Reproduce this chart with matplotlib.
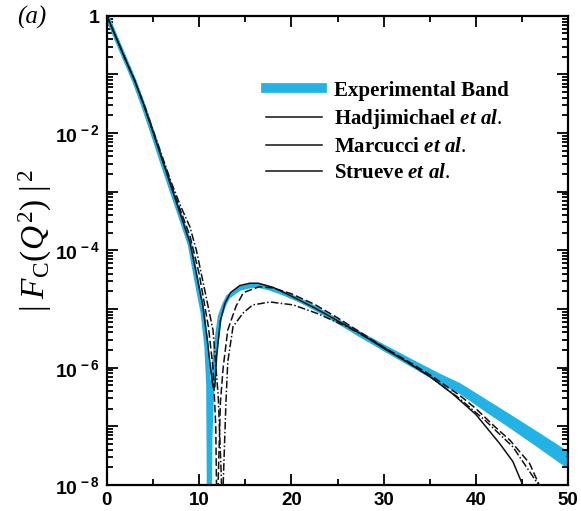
import matplotlib
matplotlib.use("Agg")
import matplotlib.pyplot as plt
import numpy as np
from matplotlib.lines import Line2D
from matplotlib.ticker import FixedLocator, FixedFormatter, LogLocator, NullFormatter

plt.rcParams['mathtext.fontset'] = 'custom'
plt.rcParams['mathtext.rm'] = 'Liberation Serif'
plt.rcParams['mathtext.it'] = 'Liberation Serif:italic:bold'
plt.rcParams['mathtext.bf'] = 'Liberation Serif:bold'
plt.rcParams['mathtext.sf'] = 'Liberation Sans:bold'
plt.rcParams['mathtext.cal'] = 'Liberation Serif:italic'

# experimental band: centre (log10) and half width (decades)
band_x = [0, 1, 2, 3, 4, 5, 6, 7, 8, 9, 9.7, 10.4, 10.8, 11.0, 11.1, 11.2, 11.35, 11.6,
          11.9, 12.25, 12.7, 13.15, 14.4, 15.5, 16.4, 17.5, 18.8, 20.9, 22.5, 24.5, 27.4,
          30, 33, 36, 38.3, 41, 43.75, 47, 50]
band_log = [0, -0.38, -0.75, -1.12, -1.55, -2.02, -2.5, -2.97, -3.43, -3.9, -4.5, -5.07,
            -5.64, -6.3, -9, -7.2, -6.5, -5.95, -5.53, -5.13, -4.93, -4.79, -4.65, -4.61,
            -4.6, -4.64, -4.71, -4.85, -4.98, -5.16, -5.43, -5.66, -5.92, -6.18, -6.36,
            -6.64, -6.92, -7.26, -7.58]
band_half = [0] * 25 + [0.02, 0.025, 0.03, 0.035, 0.04, 0.05, 0.06, 0.07, 0.085, 0.095,
                        0.11, 0.12, 0.135, 0.15]

hadj_x = [0, 1, 2, 3, 4, 5, 6, 7, 8, 9, 9.7, 10.4, 10.9, 11.3, 11.5, 11.7, 11.9, 12.3,
          12.8, 13.4, 14.4, 15.5, 16.4, 18, 20, 22.5, 25, 27.5, 30, 32.5, 35, 37.5, 40,
          42.6, 44, 45.2]
hadj_log = [0, -0.37, -0.74, -1.1, -1.52, -1.98, -2.46, -2.93, -3.4, -3.87, -4.4, -4.95,
            -5.55, -6.1, -6.33, -6.33, -5.8, -5.2, -4.9, -4.72, -4.6, -4.56, -4.56, -4.63,
            -4.78, -4.98, -5.2, -5.42, -5.67, -5.9, -6.15, -6.45, -6.8, -7.3, -7.6, -8.05]

marc_x = [0, 1, 2, 3, 4, 5, 6, 7, 8, 9, 10, 11, 11.5, 11.8, 11.95, 12.05, 12.3, 12.6,
          13.1, 14.0, 14.8, 16.5, 18, 20, 22.5, 25, 27.5, 30, 32.5, 35, 38.3, 40, 42,
          43.7, 45.8, 47.0]
marc_log = [0, -0.37, -0.74, -1.1, -1.52, -1.98, -2.44, -2.9, -3.33, -3.75, -4.4, -5.3,
            -6.0, -7.0, -9, -8, -6.6, -6.0, -5.36, -4.95, -4.72, -4.62, -4.64, -4.74,
            -4.92, -5.15, -5.4, -5.65, -5.88, -6.12, -6.48, -6.7, -7.0, -7.24, -7.63, -8.05]

strv_x = [0, 1, 2, 3, 4, 5, 6, 7, 8, 9, 9.7, 10.5, 11.5, 12.07, 12.4, 12.5, 12.6, 12.9,
          13.1, 13.67, 14.75, 15.8, 17.7, 20.2, 22.7, 26, 29, 32, 35, 38, 41, 44, 47]
strv_log = [0, -0.37, -0.74, -1.1, -1.5, -1.95, -2.4, -2.85, -3.25, -3.6, -4.0, -4.6,
            -5.36, -6.5, -7.86, -9, -8, -6.6, -5.9, -5.3, -5.07, -4.93, -4.88, -4.93,
            -5.07, -5.3, -5.56, -5.85, -6.15, -6.5, -6.9, -7.35, -8.05]

legend_labels = ["Experimental Band", r"Hadjimichael $et\ al.$",
                 r"Marcucci $et\ al.$", r"Strueve $et\ al.$"]
x_ticks = [0, 10, 20, 30, 40, 50]
x_minor = [5, 15, 25, 35, 45]
y_ticks = [1e-8, 1e-7, 1e-6, 1e-5, 1e-4, 1e-3, 1e-2, 1e-1, 1]
y_ticklabels = [r"$\mathsf{10^{\,-8}}$", "", r"$\mathsf{10^{\,-6}}$", "",
                r"$\mathsf{10^{\,-4}}$", "", r"$\mathsf{10^{\,-2}}$", "", r"$\mathsf{1}$"]

blue = '#22b2e6'

fig = plt.figure(figsize=(5.81, 5.11), dpi=100)
ax = fig.add_axes([0.184, 0.051, 0.794, 0.918])

bx = np.array(band_x)
bl = np.array(band_log)
bh = np.array(band_half)
ax.fill_between(bx, 10 ** (bl - bh), 10 ** (bl + bh), color=blue, lw=0, zorder=1)
ax.plot(bx, 10 ** bl, color=blue, lw=3.2, zorder=2)

ax.plot(hadj_x, 10 ** np.array(hadj_log), color='#111111', lw=1.1, zorder=3)
ax.plot(marc_x, 10 ** np.array(marc_log), color='#111111', lw=1.1,
        dashes=(5, 2), zorder=3)
ax.plot(strv_x, 10 ** np.array(strv_log), color='#111111', lw=1.1,
        dashes=(5, 1.5, 1, 1.5), zorder=3)

ax.set_yscale('log')
ax.set_xlim(0, 50)
ax.set_ylim(1e-8, 1)

ax.xaxis.set_major_locator(FixedLocator(x_ticks))
ax.xaxis.set_minor_locator(FixedLocator(x_minor))
ax.xaxis.set_major_formatter(FixedFormatter([str(v) for v in x_ticks]))

ax.yaxis.set_major_locator(FixedLocator(y_ticks))
ax.yaxis.set_major_formatter(FixedFormatter(y_ticklabels))
ax.yaxis.set_minor_locator(LogLocator(base=10, subs=np.arange(2, 10), numticks=30))
ax.yaxis.set_minor_formatter(NullFormatter())

ax.tick_params(which='both', direction='in', top=True, right=True, width=1.3,
               color='k')
ax.tick_params(which='major', length=8, pad=5)
ax.tick_params(which='minor', length=4.5)
ax.tick_params(axis='y', labelsize=14)
ax.tick_params(axis='x', labelsize=13.5)
for lab in ax.get_xticklabels():
    lab.set_family('Liberation Sans')
    lab.set_weight('bold')
for s in ax.spines.values():
    s.set_linewidth(1.6)

ax.set_ylabel(r"$|\;\mathcal{F}_{\mathrm{C}}(\mathcal{Q}^{\,2})\;|^{\,2}$", size=24)
ax.yaxis.set_label_coords(-0.115, 0.52)

fig.text(0.055, 0.965, "(a)", family='Liberation Serif', style='italic',
         size=18, ha='center', va='center')

handles = [Line2D([], [], color=blue, lw=7)] + \
          [Line2D([], [], color='#111111', lw=1.1) for _ in range(3)]
ax.legend(handles, legend_labels, loc='upper left', bbox_to_anchor=(0.345, 0.862),
          frameon=False, borderpad=0, borderaxespad=0, handlelength=2.7,
          handletextpad=0.55, labelspacing=0.3,
          prop={'family': 'Liberation Serif', 'weight': 'bold', 'size': 15})

fig.savefig("out.png", dpi=100)
